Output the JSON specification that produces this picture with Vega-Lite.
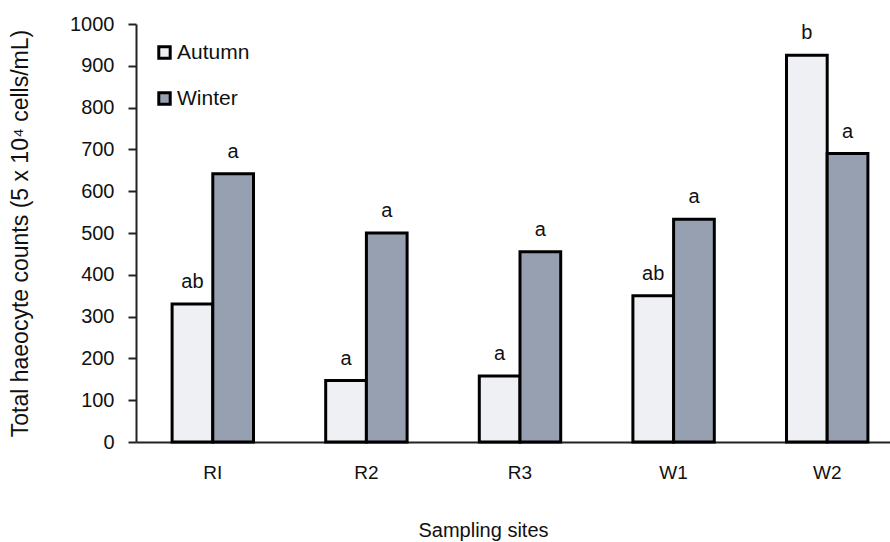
{
  "$schema": "https://vega.github.io/schema/vega-lite/v6.json",
  "width": 754,
  "height": 418,
  "autosize": {"type": "none"},
  "padding": {"left": 136, "top": 24, "right": 0, "bottom": 100},
  "background": "white",
  "config": {
    "view": {"stroke": null},
    "font": "Liberation Sans"
  },
  "data": {
    "values": [
      {"site": "RI", "season": "Autumn", "value": 330, "label": "ab"},
      {"site": "RI", "season": "Winter", "value": 642, "label": "a"},
      {"site": "R2", "season": "Autumn", "value": 147, "label": "a"},
      {"site": "R2", "season": "Winter", "value": 500, "label": "a"},
      {"site": "R3", "season": "Autumn", "value": 158, "label": "a"},
      {"site": "R3", "season": "Winter", "value": 455, "label": "a"},
      {"site": "W1", "season": "Autumn", "value": 350, "label": "ab"},
      {"site": "W1", "season": "Winter", "value": 533, "label": "a"},
      {"site": "W2", "season": "Autumn", "value": 925, "label": "b"},
      {"site": "W2", "season": "Winter", "value": 690, "label": "a"}
    ]
  },
  "encoding": {
    "x": {
      "field": "site",
      "type": "nominal",
      "sort": null,
      "scale": {"range": [0, 768], "paddingInner": 0.47, "paddingOuter": 0.235},
      "axis": {
        "title": "Sampling sites",
        "titleFontSize": 20,
        "titleFontWeight": "normal",
        "titleColor": "#111",
        "titleX": 347,
        "titleY": 94,
        "titleBaseline": "alphabetic",
        "labelAngle": 0,
        "labelFontSize": 19,
        "labelColor": "#111",
        "labelPadding": 21,
        "ticks": false,
        "domainColor": "#222",
        "domainWidth": 2
      }
    },
    "xOffset": {"field": "season", "type": "nominal", "sort": ["Autumn", "Winter"]},
    "y": {
      "field": "value",
      "type": "quantitative",
      "scale": {"domain": [0, 1000], "nice": false},
      "axis": {
        "title": "Total haeocyte counts (5 x 10⁴ cells/mL)",
        "titleFontSize": 23,
        "titleFontWeight": "normal",
        "titleColor": "#111",
        "titleX": -104,
        "titleY": 209,
        "values": [0, 100, 200, 300, 400, 500, 600, 700, 800, 900, 1000],
        "format": "d",
        "labelFontSize": 20,
        "labelColor": "#111",
        "labelPadding": 14,
        "tickSize": 8,
        "tickColor": "#222",
        "tickWidth": 2,
        "domainColor": "#222",
        "domainWidth": 2,
        "grid": false
      }
    }
  },
  "layer": [
    {
      "mark": {"type": "bar", "stroke": "#000", "strokeWidth": 3},
      "encoding": {
        "fill": {
          "field": "season",
          "type": "nominal",
          "scale": {"domain": ["Autumn", "Winter"], "range": ["#eef0f4", "#97a0b1"]},
          "legend": {
            "title": null,
            "orient": "none",
            "legendX": 18,
            "legendY": 18,
            "symbolType": "square",
            "symbolSize": 130,
            "symbolStrokeColor": "#000",
            "symbolStrokeWidth": 3,
            "labelFontSize": 21,
            "labelColor": "#111",
            "labelOffset": 2,
            "rowPadding": 21
          }
        }
      }
    },
    {
      "mark": {"type": "text", "fontSize": 20, "color": "#111", "baseline": "alphabetic", "dy": -16},
      "encoding": {
        "text": {"field": "label"}
      }
    }
  ]
}
